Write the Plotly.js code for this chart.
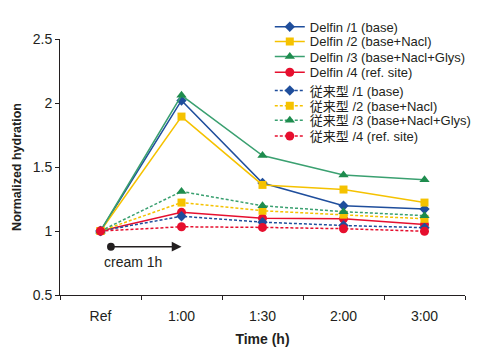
<!DOCTYPE html>
<html>
<head>
<meta charset="utf-8">
<script src="https://cdn.plot.ly/plotly-3.0.1.min.js"></script>
<style>html,body{margin:0;padding:0;background:#fff;}#chart{width:495px;height:353px;}</style>
</head>
<body>
<div id="chart"></div>
<script>
const categories = ["Ref", "1:00", "1:30", "2:00", "3:00"];
const seriesNames = [
  "Delfin /1 (base)", "Delfin /2 (base+Nacl)", "Delfin /3 (base+Nacl+Glys)", "Delfin /4 (ref. site)",
  "従来型 /1 (base)", "従来型 /2 (base+Nacl)", "従来型 /3 (base+Nacl+Glys)", "従来型 /4 (ref. site)"
];
const delfin1 = [1.0, 2.02, 1.375, 1.197, 1.171];
const delfin2 = [1.0, 1.894, 1.36, 1.324, 1.222];
const delfin3 = [1.0, 2.06, 1.59, 1.437, 1.40];
const delfin4 = [1.0, 1.146, 1.10, 1.095, 1.05];
const conv1 = [1.0, 1.115, 1.069, 1.043, 1.026];
const conv2 = [1.0, 1.222, 1.158, 1.128, 1.095];
const conv3 = [1.0, 1.309, 1.197, 1.151, 1.12];
const conv4 = [1.0, 1.033, 1.028, 1.018, 0.998];
const yTicks = [0.5, 1, 1.5, 2, 2.5];
const yTickText = ["0.5", "1", "1.5", "2", "2.5"];

const values = [delfin1, delfin2, delfin3, delfin4, conv1, conv2, conv3, conv4];
const lineColors = ["#1f4e9c", "#f5c200", "#3aa070", "#e60f2e"];
const markerColors = ["#1f4e9c", "#f5c200", "#1e8c4e", "#e60f2e"];
const symbols = ["diamond", "square", "triangle-up", "circle"];
const sizes = [8, 8, 9, 9];

const FONT = "Liberation Sans, Arial, Noto Sans CJK JP, sans-serif";
// legend entry centres in pixels from top of figure
const legendPx = [21.5, 36.5, 52, 68, 86.5, 102, 117, 133];
const plotTop = 34, plotBottom = 295;

const layout = {
  width: 495, height: 353,
  margin: {l: 60, r: 30, t: plotTop, b: 353 - plotBottom},
  paper_bgcolor: "#fff", plot_bgcolor: "#fff",
  font: {family: FONT, color: "#231f20"},
  showlegend: true,
  xaxis: {
    type: "category", range: [-0.5, 4.5],
    showline: true, linecolor: "#231f20", linewidth: 1,
    ticks: "outside", tickson: "boundaries", ticklen: 4, tickcolor: "#231f20",
    showgrid: false, zeroline: false,
    tickfont: {size: 14}, ticklabelstandoff: 8,
    title: {text: "<b>Time (h)</b>", font: {size: 14}, standoff: 11}
  },
  yaxis: {
    range: [0.5, 2.5], tickvals: yTicks, ticktext: yTickText,
    showline: true, linecolor: "#231f20", linewidth: 1,
    ticks: "outside", ticklen: 4, tickcolor: "#231f20",
    showgrid: false, zeroline: false,
    tickfont: {size: 14},
    title: {text: "<b>Normalized hydration</b>", font: {size: 12.5}, standoff: 8}
  },
  annotations: [
    {
      x: 1, y: 0.877, ax: 0.11, ay: 0.877, xref: "x", yref: "y", axref: "x", ayref: "y",
      showarrow: true, arrowhead: 2, arrowsize: 1.3, arrowwidth: 1.5, arrowcolor: "#231f20",
      arrowside: "end+start", startarrowhead: 6, startarrowsize: 1.3, text: ""
    },
    {
      x: 0.4, y: 0.755, xref: "x", yref: "y", showarrow: false,
      text: "cream 1h", font: {size: 14, color: "#231f20"}
    }
  ]
};

const traces = values.map((v, i) => {
  const k = i % 4;
  const dotted = i >= 4;
  const lname = i === 0 ? "legend" : "legend" + (i + 1);
  layout[lname] = {
    x: 0.518, y: (plotBottom - legendPx[i]) / (plotBottom - plotTop),
    xanchor: "left", yanchor: "middle",
    bgcolor: "rgba(0,0,0,0)", borderwidth: 0,
    font: {size: 13, family: FONT, color: "#231f20"}, itemwidth: 30
  };
  return {
    x: categories, y: v, name: seriesNames[i], legend: lname,
    type: "scatter", mode: "lines+markers",
    line: {color: lineColors[k], width: 1.5, dash: dotted ? "3px,2px" : "solid"},
    marker: {color: markerColors[k], symbol: symbols[k], size: sizes[k]}
  };
});

Plotly.newPlot("chart", traces, layout, {displayModeBar: false, staticPlot: true});
</script>
</body>
</html>
